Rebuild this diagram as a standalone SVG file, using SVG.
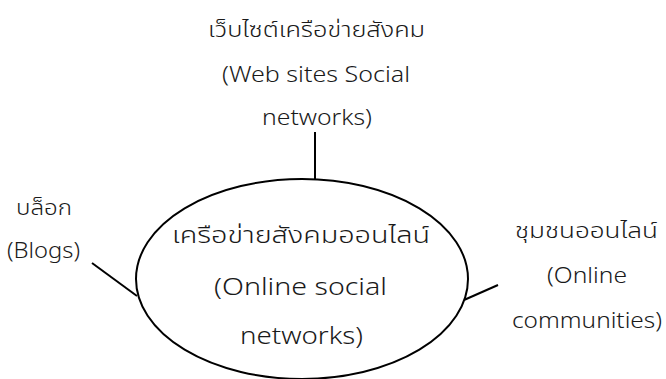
<svg xmlns="http://www.w3.org/2000/svg" width="666" height="379" viewBox="0 0 666 379">
<style>
text { font-family: "Noto Sans", "Noto Sans Thai", "DejaVu Sans", sans-serif; font-weight: 300; fill: #1a1a1a; text-anchor: middle; }
.lbl { font-size: 21px; }
.main { font-size: 23.5px; }
.ln { stroke: #000; stroke-width: 2; fill: none; }
</style>
<rect width="666" height="379" fill="#fff"/>
<g id="connectors">
<line class="ln" x1="315" y1="132" x2="315" y2="180"/>
<line class="ln" x1="92" y1="263" x2="137" y2="296"/>
<line class="ln" x1="464" y1="300" x2="498" y2="285"/>
</g>
<g id="center-node">
<ellipse cx="302" cy="279" rx="166" ry="100" fill="#fff" stroke="#000" stroke-width="2"/>
<text class="main" x="301" y="243" textLength="258" lengthAdjust="spacingAndGlyphs">เครือข่ายสังคมออนไลน์</text>
<text class="main" x="300.5" y="295" textLength="173" lengthAdjust="spacingAndGlyphs">(Online social</text>
<text class="main" x="301.5" y="344" textLength="123" lengthAdjust="spacingAndGlyphs">networks)</text>
</g>
<g id="websites-node">
<text class="lbl" x="316.5" y="37" textLength="217" lengthAdjust="spacingAndGlyphs">เว็บไซต์เครือข่ายสังคม</text>
<text class="lbl" x="316" y="82" textLength="188" lengthAdjust="spacingAndGlyphs">(Web sites Social</text>
<text class="lbl" x="317" y="125" textLength="110" lengthAdjust="spacingAndGlyphs">networks)</text>
</g>
<g id="blogs-node">
<text class="lbl" x="44" y="215" textLength="56" lengthAdjust="spacingAndGlyphs">บล็อก</text>
<text class="lbl" x="43.5" y="258" textLength="73" lengthAdjust="spacingAndGlyphs">(Blogs)</text>
</g>
<g id="communities-node">
<text class="lbl" x="586.5" y="238" textLength="143" lengthAdjust="spacingAndGlyphs">ชุมชนออนไลน์</text>
<text class="lbl" x="587" y="283" textLength="80" lengthAdjust="spacingAndGlyphs">(Online</text>
<text class="lbl" x="587" y="328" textLength="150" lengthAdjust="spacingAndGlyphs">communities)</text>
</g>
</svg>
